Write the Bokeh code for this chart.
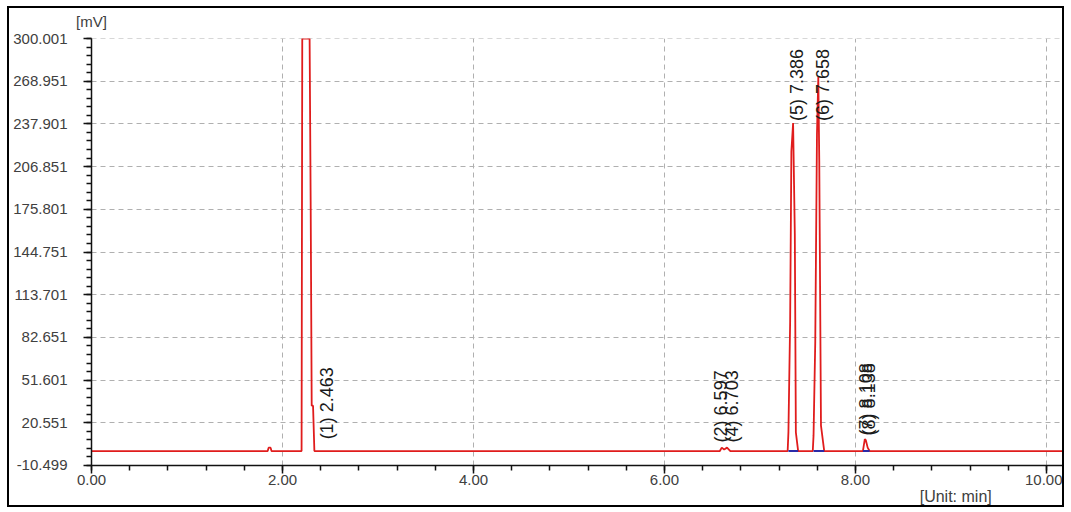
import numpy as np
from bokeh.plotting import figure
from bokeh.models import FixedTicker, PrintfTickFormatter, ColumnDataSource, Range1d, LinearAxis
from bokeh.core.properties import value
from bokeh.embed import file_html
from bokeh.resources import INLINE

# ---- data ----
time_min = [0.00, 1.845, 1.855, 1.875, 1.885, 2.200, 2.207, 2.284, 2.295, 2.306, 2.320, 2.334,
            6.580, 6.600, 6.625, 6.655, 6.690,
            7.290, 7.298, 7.316, 7.329, 7.347, 7.365, 7.376, 7.400,
            7.553, 7.561, 7.579, 7.597, 7.611, 7.621, 7.639, 7.673,
            8.078, 8.098, 8.108, 8.128, 8.148, 10.21]
signal_mv = [0, 0, 2.5, 2.5, 0, 0, 300.0, 300.0, 182, 33, 33, 0,
             0, 2.5, 1.2, 2.5, 0,
             0, 13.6, 94, 218, 238.6, 157.4, 13.6, 0,
             0, 11.2, 79.4, 230.4, 272, 211, 18.5, 0,
             0, 8.7, 8.0, 2.5, 0, 0]

base_start = [7.298, 7.561, 8.078]
base_end = [7.400, 7.673, 8.148]
base_level = [0, 0, 0]

peak_text = ["(1) 2.463", "(2) 6.597", "(4) 6.703", "(5) 7.386", "(6) 7.658", "(7) 8.108", "(8) 8.138"]
peak_rt = [2.463, 6.597, 6.703, 7.386, 7.658, 8.108, 8.138]
peak_label_mv = [8.5, 6.3, 6.3, 240, 240, 11.4, 11.4]

y_ticks = [-10.499, 20.551, 51.601, 82.651, 113.701, 144.751, 175.801, 206.851, 237.901, 268.951, 300.001]
x_ticks = [0, 2, 4, 6, 8, 10]
y_unit = "[mV]"
x_unit = "[Unit: min]"
x_unit_pos = 9.05

y_minor = [a + (b - a) * k / 5 for a, b in zip(y_ticks[:-1], y_ticks[1:]) for k in range(5)] + [y_ticks[-1]]
x_minor = [x_ticks[0] + 0.4 * k for k in range(26)]

FONT = "Liberation Sans"

p = figure(width=1057, height=501,
           x_range=Range1d(0, 10.21), y_range=Range1d(-10.4995, 300.0015),
           output_backend="svg", toolbar_location=None,
           min_border_left=82, min_border_right=0, min_border_top=30, min_border_bottom=44)
p.styles = {"border": "2px solid #000", "margin": "6px 0 0 7px"}
p.outline_line_color = None
p.background_fill_color = "white"
p.border_fill_color = "white"

# axes
for ax in (p.xaxis[0], p.yaxis[0]):
    ax.axis_line_color = "#111111"
    ax.axis_line_width = 1.5
    ax.major_tick_line_color = "#111111"
    ax.minor_tick_line_color = "#111111"
    ax.major_tick_line_width = 1.5
    ax.minor_tick_line_width = 1.5
    ax.major_tick_in = 0
    ax.minor_tick_in = 0
    ax.major_tick_out = 8
    ax.minor_tick_out = 5
    ax.major_label_text_font = FONT
    ax.major_label_text_font_size = "15px"
    ax.major_label_text_color = "#404040"

p.xaxis.ticker = FixedTicker(ticks=x_ticks, minor_ticks=x_minor)
p.yaxis.ticker = FixedTicker(ticks=y_ticks, minor_ticks=y_minor)
p.xaxis.formatter = PrintfTickFormatter(format="%.2f")
p.yaxis.formatter = PrintfTickFormatter(format="%.3f")
p.xaxis.major_label_standoff = 1
p.yaxis.major_label_standoff = 16

for g in (p.xgrid[0], p.ygrid[0]):
    g.grid_line_color = "#b0b0b0"
    g.grid_line_dash = "5 4"
    g.grid_line_width = 1


def unit_axis(pos, text, standoff, size):
    ax = LinearAxis(ticker=FixedTicker(ticks=[pos], minor_ticks=[]),
                    major_label_overrides={pos: text},
                    axis_line_color=None, major_tick_line_color=None, minor_tick_line_color=None,
                    major_tick_out=0, major_tick_in=0, minor_tick_out=0, minor_tick_in=0,
                    major_label_standoff=standoff,
                    major_label_text_font=FONT, major_label_text_font_size=size,
                    major_label_text_color="#404040")
    return ax


p.add_layout(unit_axis(0, y_unit, 9, "15px"), "above")
p.add_layout(unit_axis(x_unit_pos, x_unit, 0, "16px"), "below")

# signal
p.line(time_min, signal_mv, line_color="#e01c1c", line_width=1.8)
p.segment(x0=base_start, y0=base_level, x1=base_end, y1=base_level,
          line_color="#2a2aa8", line_width=2)

# peak labels
src = ColumnDataSource(dict(x=peak_rt, y=peak_label_mv, t=peak_text))
p.text(x="x", y="y", text="t", source=src, angle=np.pi / 2,
       text_align="left", text_baseline="middle",
       text_font=value(FONT), text_font_size="18px", text_color="#1a1a1a")

open("out.html", "w").write(file_html(p, INLINE))
